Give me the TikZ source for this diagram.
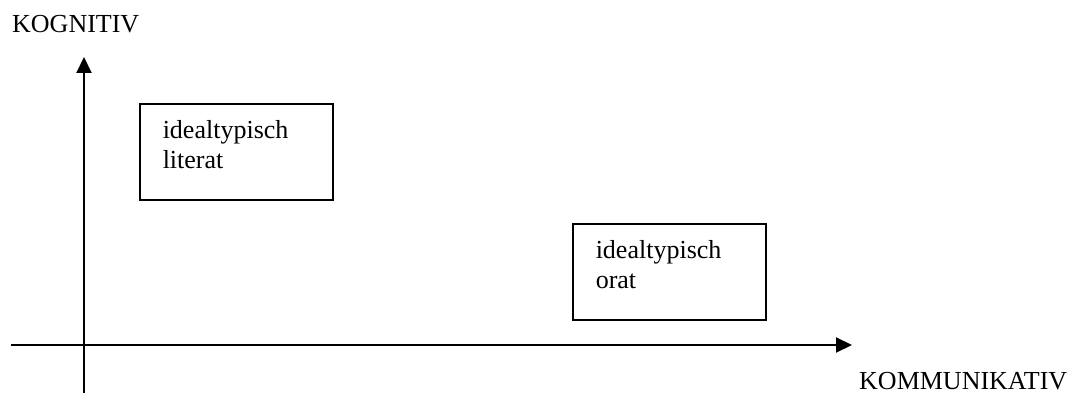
\documentclass[tikz,border=0pt]{standalone}
\usepackage{fontspec}
\setmainfont{Liberation Serif}
\usetikzlibrary{arrows.meta}

\begin{document}
\begin{tikzpicture}[
				x=1pt, y=-1pt,
				every node/.style={font=\fontsize{26}{30}\selectfont, inner sep=0pt},
				axis/.style={line width=2pt, -{Triangle[length=16pt, width=15pt]}},
				typebox/.style={draw, line width=1.5pt, anchor=north west, align=left,
					text width=147pt, inner xsep=23pt, inner ysep=0pt,
					text height=35pt, text depth=61pt}
			]
			\useasboundingbox (0,0) rectangle (1071,396);
			\coordinate (yfoot) at (84,393);
			\coordinate (ytip) at (84,57);
			\coordinate (xfoot) at (11,345);
			\coordinate (xtip) at (852,345);
			\draw[axis] (yfoot) -- (ytip);
			\draw[axis] (xfoot) -- (xtip);
			\node[anchor=base west] (kognitiv) at (12,33) {KOGNITIV};
			\node[anchor=base west] (kommunikativ) at (859,389) {KOMMUNIKATIV};
			\node[typebox] (literat) at (139,103) {idealtypisch\\literat};
			\node[typebox] (orat) at (572,223) {idealtypisch\\orat};
		\end{tikzpicture}
\end{document}
